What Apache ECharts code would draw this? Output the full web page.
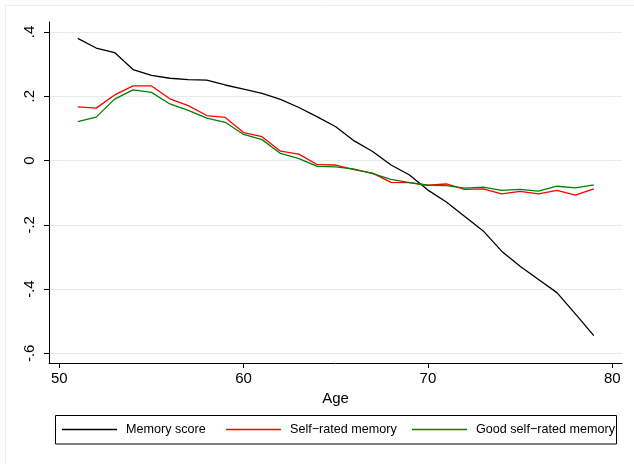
<!DOCTYPE html>
<html>
<head>
<meta charset="utf-8">
<script src="https://cdn.jsdelivr.net/npm/echarts@6/dist/echarts.min.js"></script>
<style>
html,body{margin:0;padding:0;background:#fff;}
#chart{width:634px;height:464px;}
</style>
</head>
<body>
<div id="chart"></div>
<script>
const ages = [51,52,53,54,55,56,57,58,59,60,61,62,63,64,65,66,67,68,69,70,71,72,73,74,75,76,77,78,79];
const memoryScore = [0.380,0.350,0.336,0.283,0.265,0.256,0.252,0.250,0.235,0.222,0.209,0.190,0.165,0.136,0.105,0.061,0.028,-0.014,-0.045,-0.092,-0.129,-0.174,-0.219,-0.282,-0.329,-0.370,-0.411,-0.477,-0.545];
const selfRated = [0.167,0.163,0.204,0.232,0.232,0.192,0.171,0.140,0.134,0.087,0.074,0.029,0.020,-0.013,-0.014,-0.028,-0.039,-0.068,-0.069,-0.077,-0.073,-0.090,-0.088,-0.104,-0.096,-0.104,-0.093,-0.108,-0.088];
const goodSelfRated = [0.121,0.135,0.191,0.220,0.212,0.176,0.156,0.132,0.119,0.081,0.065,0.022,0.006,-0.018,-0.020,-0.027,-0.041,-0.059,-0.069,-0.077,-0.078,-0.086,-0.083,-0.093,-0.090,-0.095,-0.080,-0.085,-0.076];
const seriesNames = ['Memory score','Self\u2212rated memory','Good self\u2212rated memory'];
const xTicks = [50,60,70,80];
const yTicks = [-0.6,-0.4,-0.2,0,0.2,0.4];
const yTickLabels = ['-.6','-.4','-.2','0','.2','.4'];
const xTitle = 'Age';

const chart = echarts.init(document.getElementById('chart'), null, {renderer:'canvas'});
const FONT = "'Liberation Sans', Arial, Helvetica, sans-serif";
const colors = ['#000000','#ff0000','#008000'];
const pair = (ys) => ages.map((a,i)=>[a, ys[i]]);
const legendLefts = [62, 226, 412];

const option = {
  animation: false,
  backgroundColor: '#ffffff',
  textStyle: {fontFamily: FONT},
  grid: {left: 49, right: 12, top: 22, bottom: 101, containLabel: false},
  xAxis: {
    type: 'value', min: 49.44, max: 80.53,
    name: xTitle, nameLocation: 'middle', nameGap: 27,
    nameTextStyle: {fontSize: 15, color: '#000', fontFamily: FONT},
    axisLine: {show: true, onZero: false, lineStyle: {color: '#000', width: 1}},
    axisTick: {show: true, length: 5, customValues: xTicks, lineStyle: {color: '#000'}},
    axisLabel: {customValues: xTicks, fontSize: 15, color: '#000', margin: 8, fontFamily: FONT},
    splitLine: {show: false}
  },
  yAxis: {
    type: 'value', min: -0.630, max: 0.431,
    axisLine: {show: true, onZero: false, lineStyle: {color: '#000', width: 1}},
    axisTick: {show: true, length: 5, customValues: yTicks, lineStyle: {color: '#000'}},
    axisLabel: {
      customValues: yTicks, rotate: 90, fontSize: 15, color: '#000', margin: 12, fontFamily: FONT,
      formatter: (v) => { const i = yTicks.findIndex(t => Math.abs(t - v) < 1e-9); return i >= 0 ? yTickLabels[i] : ''; }
    },
    splitLine: {show: true, lineStyle: {color: '#e3ecef', width: 1}}
  },
  legend: seriesNames.map((n, i) => ({
    data: [n], left: legendLefts[i], top: 423, padding: 0,
    icon: 'rect', itemWidth: 55, itemHeight: 1.4, selectedMode: false,
    textStyle: {fontSize: 12.6, color: '#000', fontFamily: FONT, padding: [0,0,0,4]}
  })),
  graphic: [
    {type: 'rect', shape: {x: 5.5, y: 5.5, width: 800, height: 800}, style: {fill: 'none', stroke: '#e8eef1', lineWidth: 1}, silent: true, z: -10},
    {type: 'rect', shape: {x: 55.5, y: 415.5, width: 561, height: 28.5}, style: {fill: 'none', stroke: '#000', lineWidth: 1}, silent: true}
  ],
  series: [memoryScore, selfRated, goodSelfRated].map((d, i) => ({
    name: seriesNames[i], type: 'line', data: pair(d), symbol: 'none',
    lineStyle: {color: colors[i], width: 1.3}, itemStyle: {color: colors[i]}
  }))
};
chart.setOption(option);
</script>
</body>
</html>
